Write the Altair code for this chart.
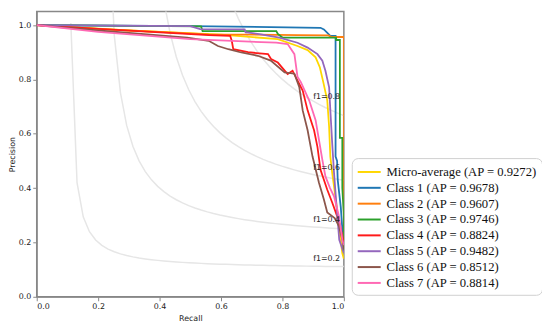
import altair as alt
import pandas as pd
import numpy as np

labels = [
    "Micro-average (AP = 0.9272)",
    "Class 1 (AP = 0.9678)",
    "Class 2 (AP = 0.9607)",
    "Class 3 (AP = 0.9746)",
    "Class 4 (AP = 0.8824)",
    "Class 5 (AP = 0.9482)",
    "Class 6 (AP = 0.8512)",
    "Class 7 (AP = 0.8814)",
]
colors = ["#ffd700", "#1f77b4", "#ff7f0e", "#2ca02c", "#ff1a1a", "#9467bd", "#8c564b", "#ff69b4"]

micro_r = [0.0, 0.3, 0.6, 0.785, 0.849, 0.882, 0.908, 0.922, 0.933, 0.946, 0.952, 0.956, 0.962, 0.975, 0.985, 0.995, 1.0]
micro_p = [1.0, 0.98, 0.965, 0.948, 0.923, 0.908, 0.881, 0.844, 0.79, 0.723, 0.625, 0.516, 0.456, 0.347, 0.25, 0.16, 0.14]

c1_r = [0.0, 0.5, 0.924, 0.935, 0.956, 0.973, 0.973, 0.978, 0.98, 0.99, 0.995, 1.0]
c1_p = [1.0, 0.996, 0.99, 0.984, 0.96, 0.96, 0.516, 0.50, 0.43, 0.33, 0.25, 0.17]

c2_r = [0.0, 0.2, 0.56, 0.85, 0.95, 0.96, 1.0, 1.0]
c2_p = [1.0, 0.986, 0.966, 0.963, 0.962, 0.956, 0.956, 0.17]

c3_r = [0.0, 0.535, 0.54, 0.78, 0.785, 0.80, 0.975, 0.975, 0.987, 0.987, 0.995, 0.995, 1.0, 1.0]
c3_p = [1.0, 0.995, 0.978, 0.978, 0.967, 0.954, 0.954, 0.945, 0.945, 0.585, 0.585, 0.40, 0.30, 0.17]

c4_r = [0.0, 0.2, 0.56, 0.63, 0.635, 0.64, 0.688, 0.753, 0.763, 0.785, 0.817, 0.833, 0.849, 0.866, 0.882, 0.903, 0.914, 0.924, 0.946, 0.962, 0.978, 0.988, 1.0]
c4_p = [1.0, 0.986, 0.963, 0.96, 0.942, 0.911, 0.90, 0.893, 0.875, 0.862, 0.82, 0.832, 0.796, 0.759, 0.686, 0.613, 0.552, 0.467, 0.394, 0.347, 0.297, 0.26, 0.20]

c5_r = [0.0, 0.5, 0.532, 0.677, 0.68, 0.73, 0.79, 0.849, 0.882, 0.914, 0.93, 0.94, 0.952, 0.956, 0.962, 0.968, 0.975, 0.985, 1.0]
c5_p = [1.0, 0.996, 0.985, 0.984, 0.974, 0.966, 0.954, 0.935, 0.917, 0.893, 0.869, 0.832, 0.771, 0.686, 0.566, 0.456, 0.35, 0.21, 0.16]

c6_r = [0.0, 0.2, 0.49, 0.56, 0.59, 0.624, 0.666, 0.72, 0.762, 0.807, 0.839, 0.855, 0.866, 0.882, 0.898, 0.914, 0.919, 0.935, 0.946, 0.97, 0.984, 0.995, 1.0]
c6_p = [1.0, 0.98, 0.954, 0.942, 0.923, 0.911, 0.899, 0.887, 0.869, 0.826, 0.821, 0.771, 0.686, 0.613, 0.516, 0.443, 0.42, 0.358, 0.31, 0.29, 0.26, 0.21, 0.175]

c7_r = [0.0, 0.2, 0.5, 0.78, 0.817, 0.839, 0.849, 0.86, 0.887, 0.908, 0.919, 0.93, 0.94, 0.955, 0.968, 0.984, 0.995, 1.0]
c7_p = [1.0, 0.975, 0.948, 0.935, 0.93, 0.893, 0.81, 0.79, 0.723, 0.65, 0.577, 0.504, 0.443, 0.40, 0.37, 0.297, 0.21, 0.19]

series_r = [micro_r, c1_r, c2_r, c3_r, c4_r, c5_r, c6_r, c7_r]
series_p = [micro_p, c1_p, c2_p, c3_p, c4_p, c5_p, c6_p, c7_p]

f1_levels = [0.2, 0.4, 0.6, 0.8]
x_ticks = [0.0, 0.2, 0.4, 0.6, 0.8, 1.0]
y_ticks = [0.0, 0.2, 0.4, 0.6, 0.8, 1.0]

rows = []
for lab, rr, pp in zip(labels, series_r, series_p):
    for i, (r, p) in enumerate(zip(rr, pp)):
        rows.append({"series": lab, "recall": r, "precision": p, "idx": i})
pr_df = pd.DataFrame(rows)

# iso-F1 reference curves
iso_rows = []
ann_rows = []
xs = np.linspace(0.01, 1, 50)
for f in f1_levels:
    ys = f * xs / (2 * xs - f)
    for i, (x, y) in enumerate(zip(xs, ys)):
        if y >= 0:
            iso_rows.append({"f": f, "x": float(x), "y": float(min(y, 5.0)), "idx": i})
    ann_rows.append({"x": 0.9, "y": float(ys[45] + 0.02), "text": "f1={0:0.1f}".format(f)})
iso_df = pd.DataFrame(iso_rows)
ann_df = pd.DataFrame(ann_rows)

xscale = alt.Scale(domain=[0, 1], nice=False, zero=False)
yscale = alt.Scale(domain=[0, 1.05], nice=False, zero=False)

xaxis = alt.Axis(values=x_ticks, format=".1f", title="Recall", grid=False)
yaxis = alt.Axis(values=y_ticks, format=".1f", title="Precision", grid=False, titlePadding=2)

iso = alt.Chart(iso_df).mark_line(clip=True, color="#e6e6e6", strokeWidth=1.5).encode(
    x=alt.X("x:Q", scale=xscale, axis=xaxis),
    y=alt.Y("y:Q", scale=yscale, axis=yaxis),
    detail="f:N",
    order="idx:Q",
)

ann = alt.Chart(ann_df).mark_text(align="left", baseline="alphabetic", fontSize=8,
                                   font="DejaVu Sans", color="#222").encode(
    x=alt.X("x:Q", scale=xscale),
    y=alt.Y("y:Q", scale=yscale),
    text="text:N",
)

pr = alt.Chart(pr_df).mark_line(clip=True, strokeWidth=1.8).encode(
    x=alt.X("recall:Q", scale=xscale),
    y=alt.Y("precision:Q", scale=yscale),
    color=alt.Color(
        "series:N",
        scale=alt.Scale(domain=labels, range=colors),
        sort=labels,
        legend=alt.Legend(
            title=None,
            orient="none",
            legendX=318,
            legendY=148,
            symbolType="M-1,0H1.9",
            symbolSize=256,
            symbolStrokeWidth=2,
            labelFont="Liberation Serif",
            labelFontSize=12.75,
            labelColor="#111",
            labelOffset=12,
            labelLimit=300,
            rowPadding=0,
            padding=5,
            fillColor="white",
            strokeColor="#d0d0d0",
            cornerRadius=6,
        ),
    ),
    order="idx:Q",
)

chart = alt.layer(iso, pr, ann).properties(
    width=310,
    height=288,
    autosize=alt.AutoSizeParams(type="none"),
    padding={"left": 29, "top": 2, "right": 200, "bottom": 30},
).configure_view(
    stroke="#888", strokeWidth=1.5
).configure_axis(
    domainColor="#888",
    tickColor="#888",
    tickSize=4,
    labelFont="DejaVu Sans",
    labelFontSize=8,
    labelColor="#222",
    titleFont="DejaVu Sans",
    titleFontSize=8,
    titleFontWeight="normal",
    titleColor="#222",
    labelPadding=2,
)

chart.save("out.html", embed_options={"renderer": "svg", "actions": False})
